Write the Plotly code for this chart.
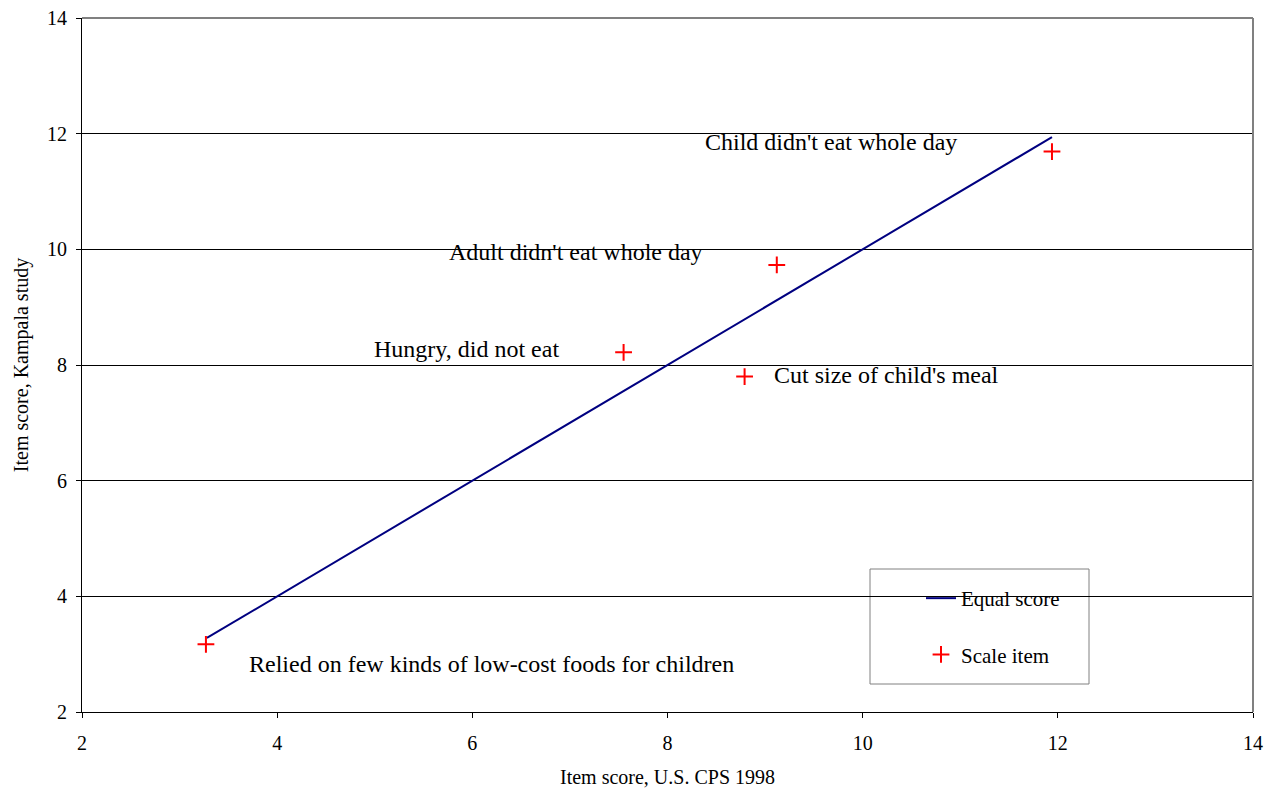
import plotly.graph_objects as go

# Data
item_labels = [
    "Relied on few kinds of low-cost foods for children",
    "Hungry, did not eat",
    "Cut size of child's meal",
    "Adult didn't eat whole day",
    "Child didn't eat whole day",
]
cps_scores = [3.27, 7.55, 8.79, 9.12, 11.94]
kampala_scores = [3.17, 8.22, 7.80, 9.73, 11.69]
equal_x = [3.28, 11.94]
equal_y = [3.28, 11.94]

# label positions (data coords, centre of text)
label_x = [6.20, 5.94, 10.24, 7.06, 9.68]
label_y = [2.83, 8.27, 7.82, 9.95, 11.86]

FONT = "Liberation Serif, Times New Roman, serif"

fig = go.Figure()
fig.add_trace(go.Scatter(
    x=equal_x, y=equal_y, mode="lines", name="Equal score",
    line=dict(color="#000080", width=2), legendgroup="a",
))
fig.add_trace(go.Scatter(
    x=cps_scores, y=kampala_scores, mode="markers", name="Scale item",
    marker=dict(symbol="cross-thin", size=12, line=dict(color="#FF0000", width=2), color="#FF0000"),
    legendgroup="b",
))

for t, x, y in zip(item_labels, label_x, label_y):
    fig.add_annotation(x=x, y=y, xref="x", yref="y", text=t, showarrow=False,
                       font=dict(family=FONT, size=24, color="black"),
                       xanchor="center", yanchor="middle")

# legend box
fig.add_shape(type="rect", xref="paper", yref="paper",
              x0=(870 - 82) / 1171, x1=(1089 - 82) / 1171,
              y0=(712 - 684) / 694, y1=(712 - 569) / 694,
              line=dict(color="#808080", width=1), fillcolor="white", layer="below")

fig.update_layout(
    width=1276, height=794,
    margin=dict(l=82, r=23, t=18, b=82),
    paper_bgcolor="white", plot_bgcolor="white",
    font=dict(family=FONT, size=20, color="black"),
    showlegend=True,
    legend=dict(x=(921 - 82) / 1171, y=(712 - 578) / 694, xanchor="left", yanchor="top",
                bgcolor="rgba(0,0,0,0)", borderwidth=0,
                font=dict(family=FONT, size=21), tracegroupgap=26),
    xaxis=dict(range=[2, 14], dtick=2, showgrid=False, showline=True, linecolor="black",
               linewidth=1, ticks="outside", ticklen=5, tickcolor="black", zeroline=False,
               tickfont=dict(size=20), ticklabelstandoff=8, automargin=False,
               mirror=False, title=dict(text="Item score, U.S. CPS 1998", standoff=16,
                                        font=dict(family=FONT, size=20))),
    yaxis=dict(range=[2, 14], dtick=2, showgrid=True, gridcolor="black", gridwidth=1,
               showline=True, linecolor="black", linewidth=1, ticks="outside", ticklen=5,
               tickcolor="black", zeroline=False, tickfont=dict(size=20), ticklabelstandoff=5,
               automargin=False,
               title=dict(text="Item score, Kampala study", standoff=13,
                          font=dict(family=FONT, size=20))),
)

# grey top/right border
fig.add_shape(type="line", xref="paper", yref="paper", x0=0, x1=1, y0=1, y1=1,
              line=dict(color="#808080", width=2))
fig.add_shape(type="line", xref="paper", yref="paper", x0=1, x1=1, y0=0, y1=1,
              line=dict(color="#808080", width=2))

fig.write_html("out.html", config={"displayModeBar": False},
               post_script="document.body.style.margin='0';")
